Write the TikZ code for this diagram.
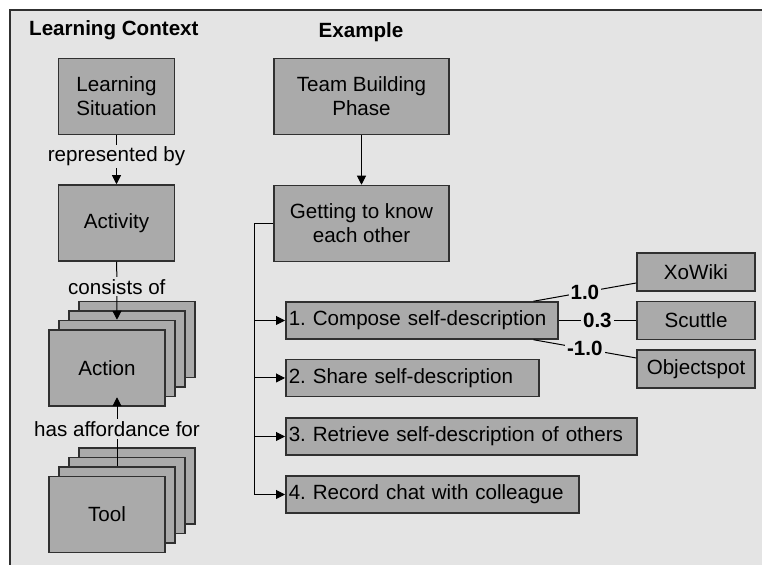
\documentclass[tikz,border=0pt]{standalone}
\usepackage{fontspec}
\setmainfont{Liberation Sans}
\usetikzlibrary{arrows.meta}
\frenchspacing

\definecolor{paper}{HTML}{E4E4E4}
\definecolor{boxgray}{HTML}{AAAAAA}
\definecolor{edge}{HTML}{303030}

\tikzset{%
		every box/.style={
			draw=edge,
			fill=boxgray,
			line width=0.75pt,
			align=center,
			inner sep=1.5pt,
			font=\fontsize{10.3}{12}\selectfont
		},
		box single/.style={
			minimum width=58pt,
			minimum height=38pt
		},
		box wide/.style={
			minimum width=87.5pt,
			minimum height=38pt
		},
		box step/.style={
			anchor=west,
			align=left,
			minimum height=18.5pt
		},
		box tool/.style={
			minimum width=59pt,
			minimum height=19pt
		},
		edge label/.style={
			fill=paper,
			inner sep=1pt,
			font=\fontsize{10.3}{12}\selectfont
		},
		weight/.style={
			edge label,
			font=\bfseries\fontsize{10.3}{12}\selectfont
		},
		heading/.style={
			font=\bfseries\fontsize{10.3}{12}\selectfont
		},
	}

\begin{document}
\begin{tikzpicture}[x=0.5pt, y=-0.5pt, >={Triangle[length=4.5pt,width=4.5pt]}, line width=0.5pt]
			% paper and frame
			\useasboundingbox (0,0) rectangle (762,565);
			\fill [paper] (10,10) rectangle (762,565);
			\draw [edge, line width=1pt] (10,565) -- (10,10) -- (762,10);
			
			% headings
			\node [heading, anchor=west] (context-title) at (22,30) {Learning Context};
			\node [heading] (example-title) at (361,32) {Example};
			
			% draw boxes of the learning context
			\node [every box, box single] (situation) at (116.5,96.5) {Learning\\Situation};
			\node [every box, box single] (activity) at (116.5,223) {Activity};
			
			% draw stacked boxes for actions and tools
			\foreach \k/\l in {3/{},2/{},1/{},0/Action}
			\node [every box, box single] (action-\k) at (107+10*\k,368-9.5*\k) {\l};
			
			\foreach \k/\l in {3/{},2/{},1/{},0/Tool}
			\node [every box, box single] (tool-\k) at (107+10*\k,514.5-9.5*\k) {\l};
			
			% connectors of the learning context
			\draw [->] (situation) -- (activity)
			node [edge label, pos=0.43] {represented by};
			\draw [->] (activity) -- (action-1.north)
			node [edge label, pos=0.43] {consists of};
			\draw [->] (tool-1.north) -- (action-1.south)
			node [edge label, pos=0.54] {has affordance for};
			
			% draw boxes of the example
			\node [every box, box wide] (team) at (361.5,96.5) {Team Building\\Phase};
			\node [every box, box wide] (getting) at (361.5,223.5) {Getting to know\\each other};
			\draw [->] (team) -- (getting);
			
			% draw steps
			\foreach \t/\w/\y [count=\i] in {1. Compose self-description/133/320.5,
				2. Share self-description/123.5/378,
				3. Retrieve self-description of others/172.5/436.5,
				4. Record chat with colleague/143.5/494.5}
			\node [every box, box step, text width=\w pt] (step-\i) at (285,\y) {\t};
			
			% connect steps to their phase
			\coordinate (bus) at (254,223.5);
			\draw (getting.west) -- (bus);
			\foreach \i in {1,...,4}
			\draw [->] (bus) |- (step-\i.west);
			
			% draw tools
			\foreach \t/\y [count=\i] in {XoWiki/272, Scuttle/320.5, Objectspot/369}
			\node [every box, box tool] (app-\i) at (696,\y) {\t};
			
			% weights between first step and tools
			\draw ([xshift=-12.5pt]step-1.north east) -- ([yshift=-5.5pt]app-1.west)
			node [weight, midway] {1.0};
			\draw (step-1) -- (app-2)
			node [weight, midway] {0.3};
			\draw ([xshift=-12.5pt]step-1.south east) -- ([yshift=5.5pt]app-3.west)
			node [weight, midway] {-1.0};
\end{tikzpicture}
\end{document}
